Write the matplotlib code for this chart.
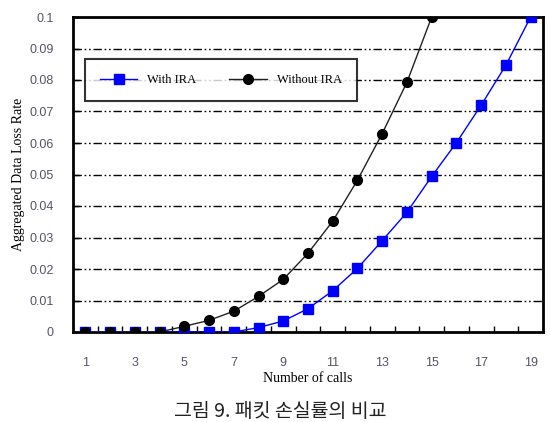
import matplotlib.pyplot as plt
import numpy as np

calls = list(range(1, 20))
with_ira = [0, 0, 0, 0, 0, 0, 0, 0.0014, 0.0035, 0.0074, 0.0131, 0.0202,
            0.029, 0.038, 0.0494, 0.0601, 0.072, 0.0847, 0.1]
without_ira = [0, 0, 0, 0, 0.0018, 0.0037, 0.0066, 0.0113, 0.0167, 0.025,
               0.0352, 0.0482, 0.063, 0.0793, 0.1]
xtick_labels = [str(c) for c in range(1, 20, 2)]
yticks = [0, 0.01, 0.02, 0.03, 0.04, 0.05, 0.06, 0.07, 0.08, 0.09, 0.1]
ytick_labels = ['0', '0.01', '0.02', '0.03', '0.04', '0.05', '0.06',
                '0.07', '0.08', '0.09', '0.1']

serif = ['Liberation Serif', 'DejaVu Serif']
sans = ['Liberation Sans', 'DejaVu Sans']

fig = plt.figure(figsize=(5.5, 4.22), dpi=100)
ax = fig.add_axes([73 / 550, 1 - 332 / 422, 470 / 550, 315 / 422])

for y in yticks[1:]:
    ax.axhline(y, color='black', lw=1.0, dashes=(6, 2, 1.2, 2, 1.2, 2), zorder=1)

ax.plot(calls, with_ira, color='#0000FF', lw=1.0, marker='s', ms=7,
        mfc='#0000FF', mec='#0000FF', label='With IRA', zorder=3)
ax.plot(calls[:len(without_ira)], without_ira, color='#222222', lw=1.0,
        marker='o', ms=7, mfc='black', mec='black', label='Without IRA', zorder=4)

ax.set_xlim(0.5, 19.5)
ax.set_ylim(0, 0.1)
ax.set_xticks(range(1, 20, 2))
ax.set_xticklabels(xtick_labels, family=sans, fontsize=9, color='#555566')
ax.set_xticks(np.arange(1.5, 19.5, 1), minor=True)
ax.set_yticks(yticks)
ax.set_yticklabels(ytick_labels, family=sans, fontsize=9, color='#555566')
ax.tick_params(axis='x', which='major', length=0, pad=18)
ax.tick_params(axis='x', which='minor', direction='in', length=4, width=1)
ax.tick_params(axis='y', direction='in', length=4, width=1, pad=14)

for s in ax.spines.values():
    s.set_linewidth(2)
    s.set_color('black')

ax.set_xlabel('Number of calls', family=serif, fontsize=10, labelpad=2)
ax.set_ylabel('Aggregated Data Loss Rate', family=serif, fontsize=10, labelpad=3)

leg = ax.legend(loc='upper left', bbox_to_anchor=(0.0255, 0.867, 0.579, 0.0),
                ncol=2, mode='expand', frameon=True, fancybox=False,
                prop={'family': serif, 'size': 9}, handlelength=3,
                borderpad=1.2, borderaxespad=0, edgecolor='black')
leg.get_frame().set_linewidth(1.5)
leg.set_zorder(5)

fig.text(0.51, 1 - 401 / 422, '그림 9. 패킷 손실률의 비교', ha='center', va='top',
         family=['Noto Sans CJK KR', 'DejaVu Sans'], fontsize=14, color='#222222')

fig.savefig('out.png', dpi=100)
